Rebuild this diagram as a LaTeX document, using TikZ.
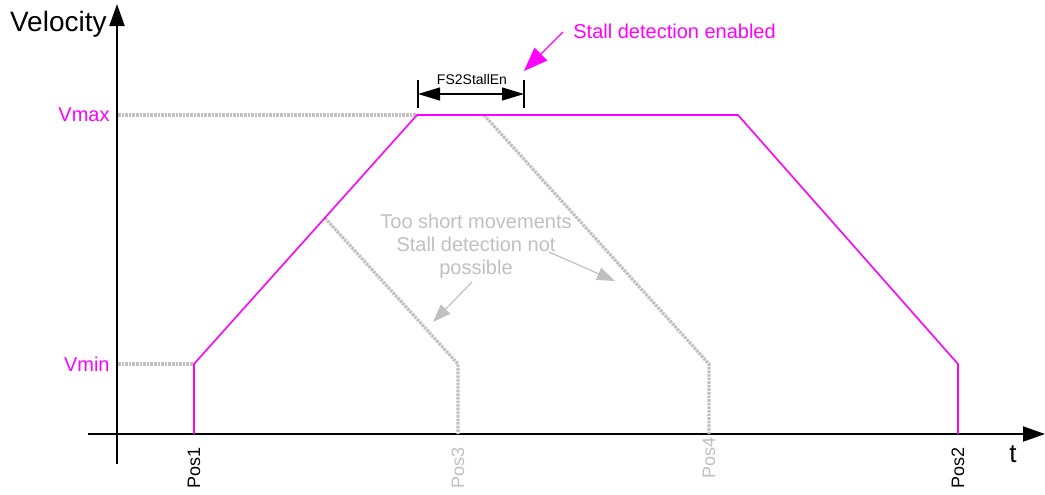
\documentclass[tikz,border=0pt]{standalone}
\usepackage{fontspec}
\setmainfont{Liberation Sans}
\usetikzlibrary{arrows.meta,positioning}
\definecolor{stallmag}{RGB}{255,0,255}
\definecolor{shortgray}{RGB}{192,192,192}

\begin{document}
\begin{tikzpicture}[x=0.5pt,y=-0.5pt,
    axis/.style={line width=1pt,-{Triangle[length=11pt,width=7.5pt]}},
    profile/.style={stallmag,line width=0.8pt},
    shortmove/.style={shortgray,line width=1.6pt,dash pattern=on 1.3pt off 0.5pt},
    poslabel/.style={rotate=90,anchor=east,inner sep=1pt,font=\fontsize{9}{10}\selectfont},
    levellabel/.style={anchor=east,inner sep=1pt,stallmag,font=\fontsize{10}{12}\selectfont},
    dimtick/.style={line width=0.6pt},
    dimarrow/.style={line width=0.6pt,{Triangle[length=11pt,width=6.5pt]}-{Triangle[length=11pt,width=6.5pt]}},
    notearrow/.style={line width=0.6pt,-{Triangle[length=9pt,width=6.5pt]}}]
  \useasboundingbox (0,0) rectangle (1045,494);

  % axes
  \coordinate (origin) at (117,434);
  \draw[axis] (117,464) -- (117,4);
  \draw[axis] (88,434) -- (1045,434);
  \node[anchor=east,inner sep=0pt,font=\fontsize{14}{16}\selectfont] (velo) at (107,24) {Velocity};
  \node[font=\fontsize{13}{15}\selectfont] (tlab) at (1013,454) {t};

  % profile corners
  \coordinate (p1) at (194,434);
  \coordinate (p1v) at (194,364);
  \coordinate (topL) at (417,115);
  \coordinate (topR) at (738,115);
  \coordinate (p2v) at (958,364);
  \coordinate (p2) at (958,434);

  % too short movements
  \draw[shortmove] (118,115) -- (topL);
  \draw[shortmove] (118,364) -- (p1v);
  \draw[shortmove] (325,218) -- (458,364) -- (458,434);
  \draw[shortmove] (484,115) -- (709,364) -- (709,434);

  % full movement
  \draw[profile] (p1) -- (p1v) -- (topL) -- (topR) -- (p2v) -- (p2);

  \node[levellabel] (vmax) at (112,115) {Vmax};
  \node[levellabel] (vmin) at (112,364) {Vmin};

  \node[poslabel] (pos1) at (194,445) {Pos1};
  \node[poslabel,shortgray] (pos3) at (458,445) {Pos3};
  \node[poslabel,shortgray] (pos4) at (709,435) {Pos4};
  \node[poslabel] (pos2) at (958,445) {Pos2};

  % FS2StallEn window
  \coordinate (dimL) at (418,94);
  \coordinate (dimR) at (524,94);
  \draw[dimtick] (418,80) -- (418,108);
  \draw[dimtick] (524,80) -- (524,108);
  \draw[dimarrow] (dimL) -- (dimR);
  \node[font=\fontsize{7}{8}\selectfont,inner sep=0pt] (fs2) at (472,79) {FS2StallEn};

  \node[anchor=west,inner sep=0pt,stallmag,font=\fontsize{10}{12}\selectfont] (stall) at (573,31) {Stall detection enabled};
  \draw[notearrow,stallmag,-{Triangle[length=12pt,width=9pt]}] (563,32) -- (524,71);

  % note on short movements
  \node[shortgray,align=center,inner sep=0pt,font=\fontsize{10}{11.5}\selectfont] (shortnote) at (476,246)
    {Too short movements\\Stall detection not\\possible};
  \coordinate (noteA) at (472,282);
  \coordinate (noteB) at (549,252);
  \draw[notearrow,shortgray] (noteA) -- (433,322);
  \draw[notearrow,shortgray] (noteB) -- (615,281);
\end{tikzpicture}
\end{document}
